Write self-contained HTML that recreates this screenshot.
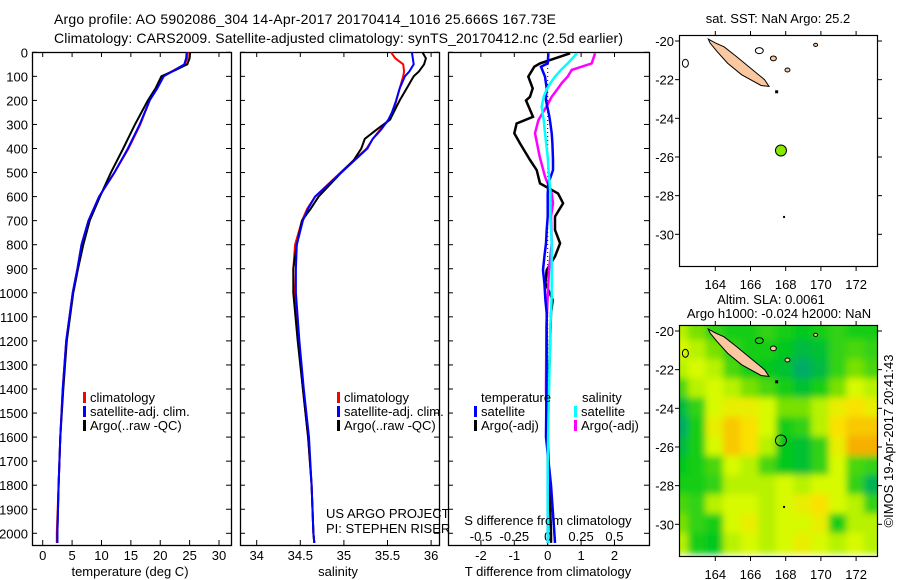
<!DOCTYPE html>
<html><head><meta charset="utf-8">
<style>
html,body{margin:0;padding:0;background:#fff;}
svg{display:block;font-family:"Liberation Sans",sans-serif;}
text{font-size:13px;fill:#000;}
</style></head>
<body>
<svg id="fig" width="900" height="580" viewBox="0 0 900 580" xmlns="http://www.w3.org/2000/svg">
<defs>
<filter id="blur" x="-5%" y="-5%" width="110%" height="110%"><feGaussianBlur stdDeviation="3.5"/></filter>
<clipPath id="map2clip"><rect x="679.5" y="325.5" width="198" height="231"/></clipPath>
</defs>
<text x="54" y="24" style="font-size:14px" textLength="502">Argo profile: AO 5902086_304 14-Apr-2017 20170414_1016 25.666S 167.73E</text>
<text x="54" y="43" style="font-size:14px" textLength="569">Climatology: CARS2009. Satellite-adjusted climatology: synTS_20170412.nc (2.5d earlier)</text>
<g id="root"></g>
</svg>
<script>
// ---- profile data ----
const tDepth=[0,25,50,75,100,150,200,300,400,500,600,700,800,900,1000,1200,1400,1600,1800,2000,2040];
const tArgo=[25.1,25.0,24.6,22.5,20.2,19.2,17.9,15.7,13.7,11.6,9.75,8.0,6.9,6.0,5.2,4.1,3.5,3.0,2.7,2.5,2.5];
const tClim=[24.7,24.6,24.2,22.3,20.5,19.4,18.2,16.6,14.6,12.2,9.6,7.8,6.6,5.9,5.1,4.0,3.4,3.0,2.7,2.4,2.4];
const tSat=[24.5,24.4,24.1,22.4,20.6,19.5,18.2,16.5,14.5,12.2,9.6,7.8,6.6,5.9,5.1,4.0,3.4,3.0,2.7,2.5,2.5];
const sDepth=[0,25,50,80,100,150,200,250,280,320,360,400,450,500,600,650,700,800,900,1000,1200,1400,1600,1800,2000,2040];
const sArgo=[35.90,35.94,35.92,35.86,35.80,35.72,35.64,35.57,35.53,35.38,35.24,35.20,35.11,34.97,34.71,34.62,34.52,34.46,34.42,34.42,34.47,34.53,34.59,34.63,34.65,34.66];
const sClim=[35.54,35.59,35.68,35.69,35.68,35.64,35.60,35.57,35.52,35.42,35.33,35.26,35.11,34.96,34.67,34.58,34.52,34.44,34.42,34.43,34.48,34.53,34.59,34.63,34.65,34.66];
const sSat=[35.78,35.79,35.80,35.75,35.70,35.64,35.60,35.55,35.51,35.43,35.33,35.27,35.12,34.97,34.67,34.59,34.53,34.46,34.45,34.45,34.49,34.54,34.60,34.63,34.65,34.66];
const dtDepth=[4,46,60,101,150,185,200,268,296,337,379,448,490,545,587,628,683,739,794,849,905,960,1030,1085,1300,1600,1800,2000,2040];
const dtArgo=[0.67,-0.23,-0.4,-0.58,-0.45,-0.53,-0.65,-0.44,-0.93,-1.0,-0.83,-0.53,-0.33,-0.23,0.31,0.46,0.22,0.22,0.37,0.22,-0.03,-0.07,0.15,0.1,0.05,0.0,0.05,0.1,0.1];
const dtSat=[0.02,0,-0.2,-0.08,-0.03,-0.05,-0.05,0.05,0.08,0.12,0.14,0.16,0.16,0.02,0,0,0,-0.03,-0.05,-0.1,-0.14,-0.1,-0.07,-0.03,-0.03,-0.05,0.1,0.2,0.22];
const dsDepth=[4,46,73,101,128,156,185,226,282,337,434,517,587,628,683,794,905,1016,1140,1400,1700,2040];
const dsSat=[0.22,0.15,0.1,0.055,0.02,-0.01,-0.03,-0.045,-0.03,-0.02,0,0.01,0.02,0.02,0.02,0.03,0.03,0.03,0.02,0.01,0,0];
const dsArgo=[0.355,0.33,0.18,0.15,0.105,0.07,0.03,-0.01,-0.07,-0.095,-0.06,-0.02,0.03,0.04,0.025,0.03,0.01,0,-0.01,-0.013,0,0];
const depthTicks=[0,100,200,300,400,500,600,700,800,900,1000,1100,1200,1300,1400,1500,1600,1700,1800,1900,2000];
const tTicks=[0,5,10,15,20,25,30];
const sTicks=[34,34.5,35,35.5,36];
const dtTicks=[-2,-1,0,1,2];
const dsTicks=[-0.5,-0.25,0,0.25,0.5];
// ---- map data ----
const slaLons=[162,163,164,165,166,167,168,169,170,171,172,173];
const slaLats=[-20,-21,-22,-23,-24,-25,-26,-27,-28,-29,-30,-31];
const slaGrid=[
[0.02,0.0,-0.03,-0.04,-0.04,-0.03,-0.04,-0.05,-0.04,-0.03,-0.04,-0.04],
[0.03,0.02,0.0,-0.03,-0.04,-0.04,-0.05,-0.07,-0.06,-0.03,-0.02,-0.03],
[0.02,0.03,0.02,-0.02,-0.04,-0.05,-0.06,-0.09,-0.07,-0.03,0.0,-0.02],
[-0.02,0.02,0.03,0.02,0.0,-0.02,-0.04,-0.06,-0.04,0.0,0.03,0.02],
[-0.07,-0.03,0.03,0.04,0.04,0.03,0.0,0.0,0.02,0.04,0.05,0.04],
[-0.09,-0.04,0.04,0.06,0.05,0.03,-0.04,-0.03,0.02,0.05,0.06,0.06],
[-0.07,-0.04,0.03,0.06,0.05,0.02,-0.05,-0.06,-0.03,0.04,0.07,0.07],
[-0.05,-0.04,-0.02,0.03,0.02,-0.02,-0.05,-0.06,-0.03,0.03,-0.02,-0.03],
[-0.04,-0.04,-0.03,0.02,0.02,0.02,0.03,0.02,0.03,0.03,-0.03,-0.08],
[-0.02,-0.03,0.02,0.03,0.03,0.02,0.03,0.04,0.05,0.03,0.02,-0.03],
[0.0,-0.03,-0.04,0.03,0.04,0.02,0.03,0.03,0.04,-0.04,0.02,0.02],
[0.02,-0.04,-0.05,0.02,0.03,0.02,0.03,0.04,0.03,0.02,0.03,0.02]];
const mapLonTicks=[164,166,168,170,172];
const mapLatTicks=[-20,-22,-24,-26,-28,-30];
const argoLon=167.73, argoLat=-25.666;
const ncLons=[163.6,164.0,164.5,165.2,166.0,166.8,167.05,166.6,165.5,164.7,164.1,163.7];
const ncLats=[-19.9,-20.1,-20.3,-20.8,-21.4,-22.0,-22.35,-22.3,-21.75,-21.15,-20.55,-20.1];

const NS='http://www.w3.org/2000/svg';
const root=document.getElementById('root');
function mk(tag,attrs,parent){const e=document.createElementNS(NS,tag);for(const k in attrs)e.setAttribute(k,attrs[k]);(parent||root).appendChild(e);return e;}
function txt(x,y,s,anchor,parent,size){const e=mk('text',{x:x,y:y,'text-anchor':anchor||'start'},parent);if(size)e.style.fontSize=size+'px';e.textContent=s;return e;}

const yD=d=>52.3+d*0.2405;
const xT=t=>42.7+t*5.877;
const xS=s=>256.7+(s-34)*87.2;
const xDT=v=>547.7+v*33.4;
const xDS=v=>547.7+v*133.4;
const TOP=52, BOT=545;

function panel(x0,x1,name){
  const r=mk('rect',{x:x0+0.5,y:TOP+0.5,width:x1-x0,height:BOT-TOP,fill:'none',stroke:'#000','stroke-width':1.3});
  
  
  depthTicks.forEach(d=>{const y=yD(d);
    mk('line',{x1:x0,y1:y,x2:x0+5,y2:y,stroke:'#000'});
    mk('line',{x1:x1-5,y1:y,x2:x1,y2:y,stroke:'#000'});});
}
function line(xs,ds,fx,color,name,w){
  const pts=xs.map((v,i)=>fx(v).toFixed(1)+','+yD(ds[i]).toFixed(1)).join(' ');
  const p=mk('polyline',{points:pts,fill:'none',stroke:color,'stroke-width':w||2,'stroke-linejoin':'miter'});
  
  
}
function legItem(x,y,color,label,name){
  const g=mk('g',{});
  
  
  mk('rect',{x:x,y:y-10,width:3,height:11,fill:color},g);
  txt(x+7,y,label,'start',g);
}

// Panel 1 temperature
panel(32,231,'temperature-panel');
depthTicks.forEach(d=>{const e=txt(28,yD(d)+5,String(d),'end');});
tTicks.forEach(t=>{const x=xT(t);mk('line',{x1:x,y1:TOP,x2:x,y2:TOP+5,stroke:'#000'});mk('line',{x1:x,y1:BOT-5,x2:x,y2:BOT,stroke:'#000'});
  const e=txt(x,560,String(t),'middle');});
line(tClim,tDepth,xT,'#f00','temperature-climatology-line');
line(tArgo,tDepth,xT,'#000','temperature-argo-line');
line(tSat,tDepth,xT,'#00f','temperature-satellite-line');
{const e=txt(130,576,'temperature (deg C)','middle');}
legItem(83,402,'#f00','climatology','legend-climatology');
legItem(83,416,'#00f','satellite-adj. clim.','legend-satellite-adj');
legItem(83,430,'#000','Argo(..raw -QC)','legend-argo');

// Panel 2 salinity
panel(240,439,'salinity-panel');
sTicks.forEach(s=>{const x=xS(s);mk('line',{x1:x,y1:TOP,x2:x,y2:TOP+5,stroke:'#000'});mk('line',{x1:x,y1:BOT-5,x2:x,y2:BOT,stroke:'#000'});
  const e=txt(x,560,String(s),'middle');});
line(sClim,sDepth,xS,'#f00','salinity-climatology-line');
line(sArgo,sDepth,xS,'#000','salinity-argo-line');
line(sSat,sDepth,xS,'#00f','salinity-satellite-line');
{const e=txt(338,576,'salinity','middle');}
legItem(337,402,'#f00','climatology','legend-climatology-2');
legItem(337,416,'#00f','satellite-adj. clim.','legend-satellite-adj-2');
legItem(337,430,'#000','Argo(..raw -QC)','legend-argo-2');
{const e=txt(326,518,'US ARGO PROJECT');
 const f=txt(326,533,'PI: STEPHEN RISER');}

// Panel 3 differences
panel(448,649,'difference-panel');
dtTicks.forEach(t=>{const x=xDT(t);mk('line',{x1:x,y1:TOP,x2:x,y2:TOP+5,stroke:'#000'});mk('line',{x1:x,y1:BOT-5,x2:x,y2:BOT,stroke:'#000'});
  const e=txt(x,560,String(t),'middle');});
dsTicks.forEach(s=>{const e=txt(xDS(s),541,String(s),'middle');});
{const z=mk('line',{x1:xDT(0),y1:TOP,x2:xDT(0),y2:BOT,stroke:'#000','stroke-dasharray':'1,3'});}
line(dtArgo,dtDepth,xDT,'#000','t-diff-argo-line',2.5);
line(dsArgo,dsDepth,xDS,'#f0f','s-diff-argo-line',2.5);
line(dtSat,dtDepth,xDT,'#00f','t-diff-satellite-line',2.5);
line(dsSat,dsDepth,xDS,'#0ff','s-diff-satellite-line',2.5);
{const e=txt(548,525,'S difference from climatology','middle');
 const f=txt(548,576,'T difference from climatology','middle');
 const g=txt(481,402,'temperature');
 const h=txt(582,402,'salinity');}
legItem(474,416,'#00f','satellite','legend-t-satellite');
legItem(474,430,'#000','Argo(-adj)','legend-t-argo');
legItem(574,416,'#0ff','satellite','legend-s-satellite');
legItem(574,430,'#f0f','Argo(-adj)','legend-s-argo');

// Maps
const mX=lon=>715.3+(lon-164)*17.6;
function drawMap(top,latY,name,withGrid){
  const g=mk('g',{});
  
  
  if(withGrid){
    const hg=mk('g',{'clip-path':'url(#map2clip)'},g);
    const hb=mk('g',{filter:'url(#blur)'},hg);
    slaGrid.forEach((row,i)=>row.forEach((v,j)=>{
      const x=mX(slaLons[j]-0.5),y=latY(slaLats[i]+0.5);
      const c=mk('rect',{x:x-1,y:y-1,width:17.6+2,height:19.33+2,fill:slaColor(v)},hb);
      
      
    }));
  }
  const pts=ncLons.map((l,i)=>mX(l).toFixed(1)+','+latY(ncLats[i]).toFixed(1)).join(' ');
  const nc=mk('polygon',{points:pts,fill:'#fac8a0',stroke:'#000','stroke-width':1},g);
  
  
  [[167.3,-20.9,3],[168.1,-21.5,2.5],[169.7,-20.2,2]].forEach(p=>{mk('ellipse',{cx:mX(p[0]),cy:latY(p[1]),rx:p[2],ry:p[2]*0.8,fill:'#fac8a0',stroke:'#000'},g);});
  mk('rect',{x:mX(167.4),y:latY(-22.55),width:3,height:3,fill:'#000'},g);
  mk('rect',{x:mX(167.85),y:latY(-29.05),width:2,height:2,fill:'#000'},g);
  mk('ellipse',{cx:mX(162.3),cy:latY(-21.15),rx:3,ry:4,fill:'none',stroke:'#000'},g);
  mk('ellipse',{cx:mX(166.5),cy:latY(-20.5),rx:4,ry:3,fill:'none',stroke:'#000'},g);
  mk('rect',{x:679.5,y:top+0.5,width:198,height:231,fill:'none',stroke:'#000','stroke-width':1.2},g);
  mapLonTicks.forEach(l=>{const x=mX(l);mk('line',{x1:x,y1:top+231,x2:x,y2:top+236,stroke:'#000'},g);mk('line',{x1:x,y1:top-4,x2:x,y2:top,stroke:'#000'},g);
    const e=txt(x,top+254,String(l),'middle',g);});
  mapLatTicks.forEach(l=>{const y=latY(l);mk('line',{x1:877,y1:y,x2:882,y2:y,stroke:'#000'},g);mk('line',{x1:675,y1:y,x2:679,y2:y,stroke:'#000'},g);
    const e=txt(674,y+5,String(l),'end',g);});
  return g;
}
function slaColor(v){
  const stops=[[-0.1,[0,165,120]],[-0.05,[0,200,30]],[0,[120,225,0]],[0.03,[215,250,0]],[0.05,[250,225,0]],[0.08,[245,150,0]]];
  if(v<=stops[0][0])return 'rgb('+stops[0][1]+')';
  for(let i=1;i<stops.length;i++){if(v<=stops[i][0]){const a=stops[i-1],b=stops[i],f=(v-a[0])/(b[0]-a[0]);
    return 'rgb('+a[1].map((c,k)=>Math.round(c+(b[1][k]-c)*f)).join(',')+')';}}
  return 'rgb('+stops[stops.length-1][1]+')';
}
const m1=drawMap(35,lat=>41+(-20-lat)*19.33,'sst-map',false);
const dot=mk('circle',{cx:mX(argoLon),cy:41+(-20-argoLat)*19.33,r:5.5,fill:'#88e800',stroke:'#000'},m1);


{const e=txt(778,23,'sat. SST: NaN Argo: 25.2','middle');}
const m2=drawMap(325,lat=>331+(-20-lat)*19.33,'sla-map',true);
const dot2=mk('circle',{cx:mX(argoLon),cy:331+(-20-argoLat)*19.33,r:5.5,fill:'none',stroke:'#000'},m2);


{const e=txt(771,304,'Altim. SLA: 0.0061','middle');
 const f=txt(779,318,'Argo h1000: -0.024 h2000: NaN','middle');
 const g=txt(0,0,'©IMOS 19-Apr-2017 20:41:43','middle');g.setAttribute('transform','translate(893,441) rotate(-90)');
 }
</script>
</body></html>
